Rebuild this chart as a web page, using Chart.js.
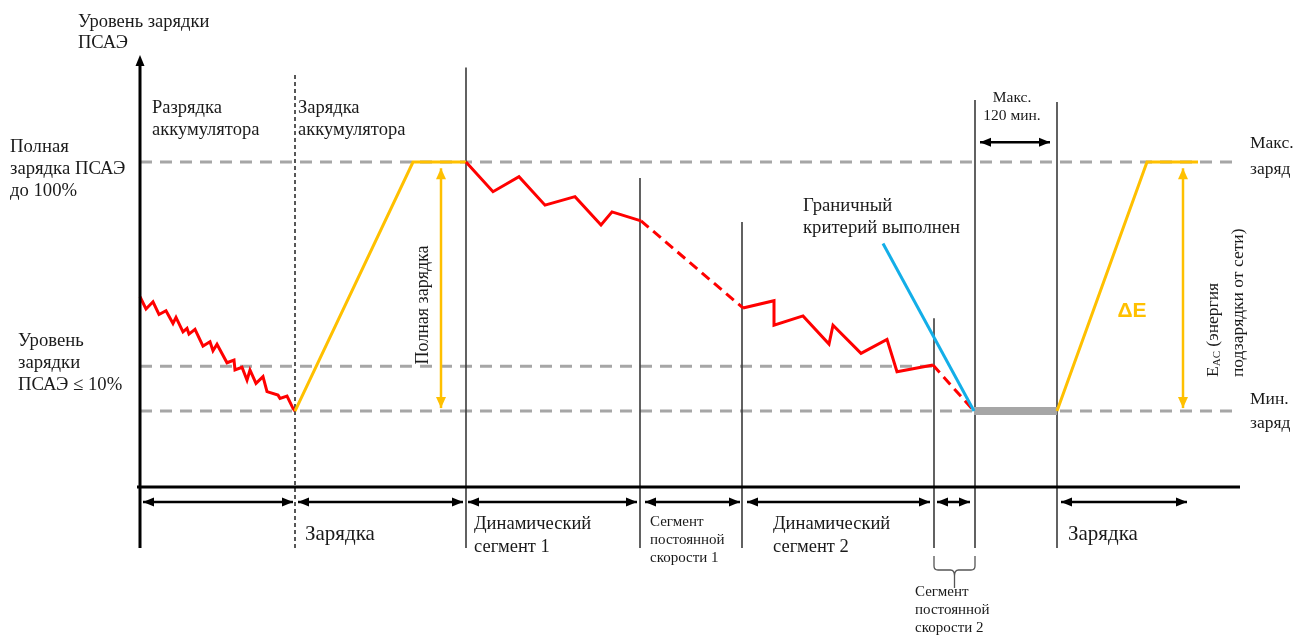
<!DOCTYPE html>
<html lang="ru">
<head>
<meta charset="utf-8">
<title>Уровень зарядки ПСАЭ</title>
<script src="https://cdn.jsdelivr.net/npm/chart.js"></script>
<style>
  html, body { margin: 0; padding: 0; background: #fff; }
  canvas { display: block; }
</style>
</head>
<body>
<canvas id="myChart" width="1296" height="635"></canvas>
<script>
// time in arbitrary units, charge level: 0 = min charge, 100 = max charge
var dischargeTime  = [0, 6, 13, 19, 26, 33, 36, 43, 47, 49, 55, 63, 70, 73, 77, 87, 94, 95, 102, 107, 110, 116, 123, 127, 138, 140, 147, 153, 155];
var dischargeLevel = [45.9, 41.0, 43.9, 38.8, 40.3, 35.2, 37.6, 31.8, 33.2, 30.9, 32.8, 26.1, 27.8, 24.2, 26.8, 19.4, 20.5, 16.5, 17.6, 12.4, 16.5, 11.1, 13.8, 7.8, 6.4, 5.1, 6.0, 1.1, 0];

var charge1Time  = [155, 273, 326];
var charge1Level = [0, 100, 100];

var driveTime  = [326, 353, 379, 405, 435, 461, 472, 501, 603, 634, 634, 663, 689, 693, 721, 747, 757, 793, 834];
var driveLevel = [100, 88.1, 94.1, 82.7, 86.1, 74.7, 80.0, 76.4, 41.4, 44.3, 34.5, 38.2, 26.9, 34.5, 23.2, 28.8, 15.8, 18.5, 0];

// constant speed segments are drawn dashed
var constSpeedFrom = [501, 793];
var constSpeedTo   = [603, 834];

var criterionTime  = [743, 834];
var criterionLevel = [67.3, 0];

var parkTime  = [834, 917];
var parkLevel = [0, 0];

var charge2Time  = [917, 1007, 1058];
var charge2Level = [0, 100, 100];

var refLevels = [100, 18, 0];
var refEnds   = [1100, 795, 1100];

var boundaryTime = [155, 326, 500, 602, 794, 835, 917];
var boundaryTop  = [136, 138, 93.6, 75.9, 37.3, 124.9, 124.1];
var boundaryBottom = -55;

var spanFrom = [3, 158, 328, 505, 607, 797, 921];
var spanTo   = [153, 323, 497, 600, 790, 830, 1047];
var spanLevel = -36.5;

var RED = '#ff0000', ORANGE = '#ffc000', BLUE = '#13aee8', GREY = '#a6a6a6', DARK = '#3a3a3a';
var SERIF = '"Liberation Serif", "DejaVu Serif", serif';

function pts(xs, ys) {
    return xs.map(function(x, i){ return {x: x, y: ys[i]}; });
}

function line(data, color, width, extra) {
    var ds = {
        data: data,
        borderColor: color,
        borderWidth: width,
        pointRadius: 0,
        showLine: true,
        fill: false,
        tension: 0,
        clip: false
    };
    for (var k in extra) ds[k] = extra[k];
    return ds;
}

var datasets = [];

refLevels.forEach(function(lv, i){
    datasets.push(line(pts([0, refEnds[i]], [lv, lv]), GREY, 3, {borderDash: [12, 8]}));
});

boundaryTime.forEach(function(t, i){
    datasets.push(line(pts([t, t], [boundaryBottom, boundaryTop[i]]), i === 0 ? '#111' : DARK, i === 0 ? 1.4 : 1.6,
        i === 0 ? {borderDash: [4, 3]} : {}));
});

datasets.push(line(pts(parkTime, parkLevel), GREY, 8, {borderCapStyle: 'butt'}));
datasets.push(line(pts(dischargeTime, dischargeLevel), RED, 3, {borderJoinStyle: 'miter'}));
datasets.push(line(pts(charge1Time, charge1Level), ORANGE, 3));
datasets.push(line(pts(driveTime, driveLevel), RED, 3, {
    borderJoinStyle: 'miter',
    segment: {
        borderDash: function(ctx){
            var a = ctx.p0.parsed.x, b = ctx.p1.parsed.x;
            for (var i = 0; i < constSpeedFrom.length; i++) {
                if (a >= constSpeedFrom[i] && b <= constSpeedTo[i]) return [10, 6];
            }
            return undefined;
        }
    }
}));
datasets.push(line(pts(criterionTime, criterionLevel), BLUE, 3));
datasets.push(line(pts(charge2Time, charge2Level), ORANGE, 3));

// later entries go on top
datasets.forEach(function(ds, i){ ds.order = datasets.length - i; });

function arrowHead(ctx, x1, y1, x2, y2, len, half) {
    var a = Math.atan2(y2 - y1, x2 - x1);
    ctx.beginPath();
    ctx.moveTo(x2, y2);
    ctx.lineTo(x2 - len * Math.cos(a) + half * Math.sin(a), y2 - len * Math.sin(a) - half * Math.cos(a));
    ctx.lineTo(x2 - len * Math.cos(a) - half * Math.sin(a), y2 - len * Math.sin(a) + half * Math.cos(a));
    ctx.closePath();
    ctx.fill();
}

function doubleArrow(ctx, x1, y1, x2, y2, color, width, len, half) {
    ctx.save();
    ctx.strokeStyle = color;
    ctx.fillStyle = color;
    ctx.lineWidth = width;
    ctx.beginPath();
    ctx.moveTo(x1, y1);
    ctx.lineTo(x2, y2);
    ctx.stroke();
    arrowHead(ctx, x1, y1, x2, y2, len, half);
    arrowHead(ctx, x2, y2, x1, y1, len, half);
    ctx.restore();
}

function text(ctx, lines, x, y, size, step, opts) {
    opts = opts || {};
    ctx.save();
    ctx.font = (opts.weight || '') + ' ' + size + 'px ' + (opts.family || SERIF);
    ctx.fillStyle = opts.color || '#1a1a1a';
    ctx.textAlign = opts.align || 'left';
    ctx.textBaseline = 'middle';
    lines.forEach(function(s, i){ ctx.fillText(s, x, y + i * step); });
    ctx.restore();
}

var annotations = {
    id: 'annotations',
    afterDatasetsDraw: function(chart) {
        var ctx = chart.ctx;
        var xs = chart.scales.x, ys = chart.scales.y;
        var X = function(v){ return xs.getPixelForValue(v); };
        var Y = function(v){ return ys.getPixelForValue(v); };

        // axes
        ctx.save();
        ctx.strokeStyle = '#000';
        ctx.fillStyle = '#000';
        ctx.lineWidth = 3;
        ctx.beginPath();
        ctx.moveTo(X(0), Y(boundaryBottom));
        ctx.lineTo(X(0), Y(140));
        ctx.stroke();
        arrowHead(ctx, X(0), Y(100), X(0), Y(143), 11, 4.5);
        ctx.beginPath();
        ctx.moveTo(X(-3), Y(-30.5));
        ctx.lineTo(X(1100), Y(-30.5));
        ctx.stroke();
        ctx.restore();

        // segment spans under the time axis
        spanFrom.forEach(function(a, i){
            doubleArrow(ctx, X(a), Y(spanLevel), X(spanTo[i]), Y(spanLevel), '#000', 2.5, 11, 4.5);
        });
        doubleArrow(ctx, X(840), Y(108), X(910), Y(108), '#000', 2.5, 11, 4.5);

        // full charge arrows
        doubleArrow(ctx, X(301), Y(97.5), X(301), Y(1.2), ORANGE, 2.5, 11, 5);
        doubleArrow(ctx, X(1043), Y(97.5), X(1043), Y(1.2), ORANGE, 2.5, 11, 5);

        // brace under constant speed segment 2
        var b1 = X(794), b2 = X(835), bm = (b1 + b2) / 2;
        ctx.save();
        ctx.strokeStyle = '#555';
        ctx.lineWidth = 1.3;
        ctx.beginPath();
        ctx.moveTo(b1, 556);
        ctx.lineTo(b1, 566);
        ctx.quadraticCurveTo(b1, 570, b1 + 4, 570);
        ctx.lineTo(bm - 4, 570);
        ctx.quadraticCurveTo(bm, 570, bm, 576);
        ctx.lineTo(bm, 588);
        ctx.moveTo(bm, 576);
        ctx.quadraticCurveTo(bm, 570, bm + 4, 570);
        ctx.lineTo(b2 - 4, 570);
        ctx.quadraticCurveTo(b2, 570, b2, 566);
        ctx.lineTo(b2, 556);
        ctx.stroke();
        ctx.restore();

        // labels
        text(ctx, ['Уровень зарядки', 'ПСАЭ'], 78, 22, 18.5, 21);
        text(ctx, ['Разрядка', 'аккумулятора'], 152, 108, 18.5, 22);
        text(ctx, ['Зарядка', 'аккумулятора'], 298, 108, 18.5, 22);
        text(ctx, ['Полная', 'зарядка ПСАЭ', 'до 100%'], 10, 147, 18.7, 22);
        text(ctx, ['Уровень', 'зарядки', 'ПСАЭ ≤ 10%'], 18, 341, 18.7, 22);
        text(ctx, ['Макс.', 'заряд'], 1250, 143, 17.5, 26);
        text(ctx, ['Мин.', 'заряд'], 1250, 399, 17.5, 24);
        text(ctx, ['Граничный', 'критерий выполнен'], 803, 206, 18.7, 22);
        text(ctx, ['Макс.', '120 мин.'], 1012, 98, 15.5, 18, {align: 'center'});
        text(ctx, ['Зарядка'], 305, 534, 21, 0);
        text(ctx, ['Динамический', 'сегмент 1'], 474, 524, 18.5, 23);
        text(ctx, ['Сегмент', 'постоянной', 'скорости 1'], 650, 522, 15, 18);
        text(ctx, ['Динамический', 'сегмент 2'], 773, 524, 18.5, 23);
        text(ctx, ['Зарядка'], 1068, 534, 21, 0);
        text(ctx, ['Сегмент', 'постоянной', 'скорости 2'], 915, 592, 15, 18);
        text(ctx, ['ΔE'], X(992), Y(40), 21, 0, {align: 'center', weight: 'bold', color: ORANGE, family: 'Arial, "Liberation Sans", sans-serif'});

        // rotated labels
        ctx.save();
        ctx.translate(423, 305);
        ctx.rotate(-Math.PI / 2);
        text(ctx, ['Полная зарядка'], 0, 0, 18, 0, {align: 'center'});
        ctx.restore();

        ctx.save();
        ctx.translate(1213, 377);
        ctx.rotate(-Math.PI / 2);
        ctx.font = '17.5px ' + SERIF;
        ctx.fillStyle = '#1a1a1a';
        ctx.textBaseline = 'middle';
        ctx.fillText('E', 0, 0);
        var w = ctx.measureText('E').width;
        ctx.font = '11px ' + SERIF;
        ctx.fillText('AC', w, 4);
        var w2 = ctx.measureText('AC').width;
        ctx.font = '17.5px ' + SERIF;
        ctx.fillText(' (энергия', w + w2, 0);
        ctx.fillText('подзарядки от сети)', 0, 25);
        ctx.restore();
    }
};

var ctx = document.getElementById('myChart').getContext('2d');
var myChart = new Chart(ctx, {
    type: 'scatter',
    data: { datasets: datasets },
    options: {
        responsive: false,
        animation: false,
        devicePixelRatio: 1,
        layout: { padding: { left: 140, right: 56, top: 55, bottom: 148 } },
        plugins: { legend: { display: false }, tooltip: { enabled: false } },
        scales: {
            x: { type: 'linear', min: 0, max: 1100, display: false },
            y: { type: 'linear', min: -30.5, max: 143, display: false }
        }
    },
    plugins: [annotations]
});
</script>
</body>
</html>
